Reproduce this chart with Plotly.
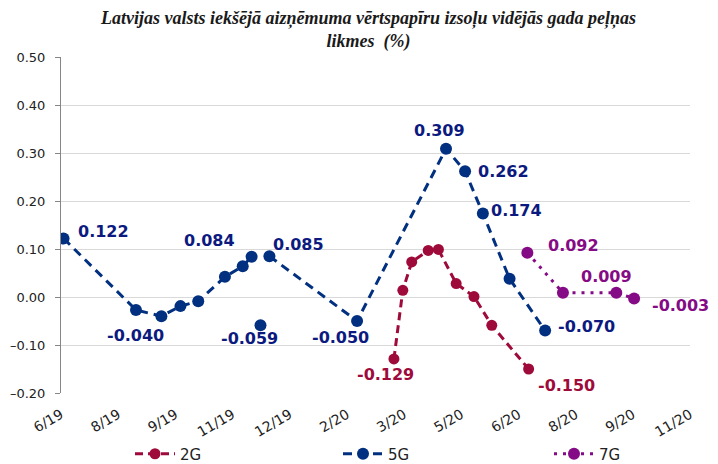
import plotly.graph_objects as go

# ---------------- data ----------------
tick_dates = ["2019-06-25", "2019-08-09", "2019-09-23", "2019-11-07", "2019-12-22",
              "2020-02-05", "2020-03-21", "2020-05-05", "2020-06-19", "2020-08-03",
              "2020-09-17", "2020-11-01"]
tick_labels = ["6/19", "8/19", "9/19", "11/19", "12/19", "2/20", "3/20", "5/20",
               "6/20", "8/20", "9/20", "11/20"]
y_ticks = [-0.2, -0.1, 0.0, 0.1, 0.2, 0.3, 0.4, 0.5]

g2_dates = ["2020-03-13", "2020-03-20", "2020-03-27", "2020-04-09", "2020-04-17",
            "2020-05-01", "2020-05-15", "2020-05-29", "2020-06-27"]
g2_values = [-0.129, 0.014, 0.073, 0.097, 0.099, 0.028, 0.001, -0.059, -0.150]

g5_dates = ["2019-06-27", "2019-08-23", "2019-09-12", "2019-09-27", "2019-10-11",
            "2019-11-01", "2019-11-15", "2019-11-22", "2019-11-29", "2019-12-06",
            "2020-02-13", "2020-04-23", "2020-05-08", "2020-05-22", "2020-06-12",
            "2020-07-10"]
g5_values = [0.122, -0.027, -0.040, -0.019, -0.009, 0.042, 0.064, 0.084, -0.059,
             0.085, -0.050, 0.309, 0.262, 0.174, 0.038, -0.070]
g5_isolated = [8]  # point not joined to the line

g7_dates = ["2020-06-26", "2020-07-24", "2020-09-04", "2020-09-18"]
g7_values = [0.092, 0.009, 0.009, -0.003]

# labelled points: index -> (dx, dy) pixel offset of label centre (dy up)
g2_labels = {0: (-8, -16), 8: (38, -16)}
g5_labels = {0: (40, 7), 2: (-26, -19), 7: (-42, 16), 8: (-11, -13), 9: (29, 12),
             10: (-17, -16), 11: (-7, 18), 12: (38, 0), 13: (34, 3), 15: (41, 4)}
g7_labels = {0: (46, 7), 2: (-10, 16), 3: (46, -7)}

TITLE = "Latvijas valsts iekšējā aizņēmuma vērtspapīru izsoļu vidējās gada peļņas<br>likmes  (%)"

# ---------------- styles ----------------
C2, C5, C7 = "#9E0B3A", "#00307F", "#850A85"
L2, L5, L7 = "#9E0B3A", "#0C1A80", "#850A85"
GRID = "#D9D9D9"
AXIS = "#868686"
FONT = "DejaVu Sans"

# page body has an 8px margin, so the figure is drawn 8px smaller and offset
W, H = 710, 456
ML, MR, MT, MB = 53, 28, 49, 71
PW, PH = W - ML - MR, H - MT - MB


def with_gaps(dates, values, isolated):
    xs, ys = [], []
    for i, (d, v) in enumerate(zip(dates, values)):
        if i in isolated:
            xs += [d, d, d]
            ys += [None, v, None]
        else:
            xs.append(d)
            ys.append(v)
    return xs, ys


fig = go.Figure()

fig.add_trace(go.Scatter(
    x=g2_dates, y=g2_values, name="2G", mode="lines+markers",
    line=dict(color=C2, width=3, dash="8px,5px"),
    marker=dict(color=C2, size=11, line=dict(width=0)),
    legend="legend"))

x5, y5 = with_gaps(g5_dates, g5_values, g5_isolated)
fig.add_trace(go.Scatter(
    x=x5, y=y5, name="5G", mode="lines+markers", connectgaps=False,
    line=dict(color=C5, width=3, dash="9px,6px"),
    marker=dict(color=C5, size=12, line=dict(width=0)),
    legend="legend2"))

fig.add_trace(go.Scatter(
    x=g7_dates, y=g7_values, name="7G", mode="lines+markers",
    line=dict(color=C7, width=3, dash="3px,6px"),
    marker=dict(color=C7, size=12, line=dict(width=0)),
    legend="legend3"))

annotations = []
for dates, values, labels, col in [(g2_dates, g2_values, g2_labels, L2),
                                   (g5_dates, g5_values, g5_labels, L5),
                                   (g7_dates, g7_values, g7_labels, L7)]:
    for i, (dx, dy) in labels.items():
        annotations.append(dict(
            x=dates[i], y=values[i], xref="x", yref="y", text=f"{values[i]:.3f}",
            showarrow=False, xshift=dx, yshift=dy,
            font=dict(family=FONT, size=16, color=col, weight="bold")))

# title as an annotation (screen centre x=368, y=30)
annotations.append(dict(
    text=TITLE, xref="paper", yref="paper",
    x=(368 - 8 - ML) / PW, y=1 + (MT - (30 - 8)) / PH,
    xanchor="center", yanchor="middle", showarrow=False, align="center",
    font=dict(family="Liberation Serif", size=18, color="#1a1a1a",
              weight="bold", style="italic")))

x_range = [tick_dates[0], tick_dates[-1]]
y_min, y_max = y_ticks[0], y_ticks[-1]
y_tick_text = [f"{v:.2f}".replace("-", "\u2013") for v in y_ticks]

fig.update_layout(
    width=W, height=H,
    margin=dict(l=ML, r=MR, t=MT, b=MB, autoexpand=False),
    paper_bgcolor="white", plot_bgcolor="white",
    showlegend=True,
    xaxis=dict(type="date", range=x_range, tickvals=tick_dates, ticktext=tick_labels,
               tickangle=-30, showgrid=False, showline=False, ticks="",
               tickfont=dict(family=FONT, size=14, color="#222"),
               ticklabelstandoff=10, zeroline=False, automargin=False),
    xaxis2=dict(type="date", range=x_range, overlaying="x", anchor="free",
                position=(0 - y_min) / (y_max - y_min), side="bottom",
                tickvals=tick_dates, showticklabels=False, showgrid=False,
                showline=True, linecolor=AXIS, linewidth=1,
                ticks="outside", ticklen=5, tickcolor=AXIS, tickwidth=1,
                zeroline=False, automargin=False),
    yaxis=dict(range=[y_min, y_max], tickvals=y_ticks, ticktext=y_tick_text,
               showgrid=True, gridcolor=GRID, gridwidth=1, zeroline=False,
               showline=True, linecolor=AXIS, linewidth=1,
               ticks="outside", ticklen=5, tickcolor=AXIS,
               tickfont=dict(family=FONT, size=13, color="#222"),
               ticklabelstandoff=7, automargin=False),
    annotations=annotations,
)

leg_common = dict(orientation="h", yanchor="middle", y=-(454 - 393) / PH,
                  xanchor="left",
                  font=dict(family=FONT, size=15, color="#222"),
                  bgcolor="rgba(0,0,0,0)", itemwidth=40, visible=True)
fig.update_layout(
    legend=dict(x=(130 - 61) / PW, **leg_common),
    legend2=dict(x=(338 - 61) / PW, **leg_common),
    legend3=dict(x=(549 - 61) / PW, **leg_common),
)

fig.write_html("out.html")
